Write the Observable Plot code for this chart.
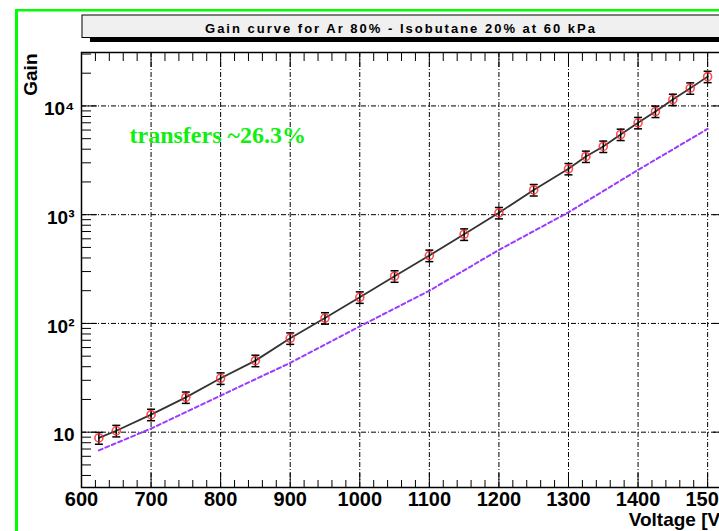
<!DOCTYPE html>
<html>
<head>
<meta charset="utf-8">
<script src="https://cdn.jsdelivr.net/npm/d3@7"></script>
<script src="https://cdn.jsdelivr.net/npm/@observablehq/plot@0.6"></script>
<style>
  html, body { margin: 0; padding: 0; background: #fff; overflow: hidden; }
  #chart svg { display: block; max-width: none !important; }
</style>
</head>
<body>
<div id="chart"></div>
<script>
// Measured gain versus anode voltage (Ar 80% / isobutane 20%, 60 kPa)
const voltage = [625, 650, 700, 750, 800, 850, 900, 950, 1000, 1050, 1100, 1150, 1200,
                 1250, 1300, 1325, 1350, 1375, 1400, 1425, 1450, 1475, 1500];
const gain = [8.85, 10.3, 14.5, 20.9, 31.3, 45.5, 73, 112, 174, 272, 421, 660, 1040,
              1690, 2640, 3430, 4240, 5460, 7000, 8890, 11450, 14550, 18600];
const gainErr = [1.1, 1.25, 1.75, 2.5, 3.8, 5.5, 8.8, 13.5, 21, 33, 51, 80, 125,
                 205, 315, 410, 510, 655, 840, 1070, 1370, 1750, 2230];

// Gain scaled by the transfer fraction
const transferVoltage = [625, 700, 800, 900, 1000, 1100, 1200, 1300, 1400, 1500];
const transferGain = [6.8, 10.8, 21.7, 43.4, 94, 200, 474, 1052, 2580, 6150];

// Axis ticks and labels
const xMajorTicks = [600, 700, 800, 900, 1000, 1100, 1200, 1300, 1400, 1500];
const xMinorTicks = d3.range(620, 1530, 20).filter(v => v % 100 !== 0);
const yMajorTicks = [10, 100, 1000, 10000];
const yTickLabels = ["10", "10\u00B2", "10\u00B3", "10\u2074"];
const yMinorTicks = [4, 5, 6, 7, 8, 9, 20, 30, 40, 50, 60, 70, 80, 90,
                     200, 300, 400, 500, 600, 700, 800, 900,
                     2000, 3000, 4000, 5000, 6000, 7000, 8000, 9000, 20000, 30000];

const titleText = "Gain curve for Ar 80% - Isobutane 20% at 60 kPa";
const annotation = "transfers ~26.3%";
const xTitle = "Voltage [V]";
const yTitle = "Gain";

const points = voltage.map((v, i) => ({v, g: gain[i], lo: gain[i] - gainErr[i], hi: gain[i] + gainErr[i]}));
const transfer = transferVoltage.map((v, i) => ({v, g: transferGain[i]}));

// horizontal bar used as the error-bar cap
const capSymbol = {
  draw(ctx, size) {
    const r = Math.sqrt(size / Math.PI);
    ctx.moveTo(-r, 0);
    ctx.lineTo(r, 0);
  }
};

const gridStyle = {stroke: "#000", strokeOpacity: 1, strokeWidth: 1, strokeDasharray: "5,2,1,2"};
const sans = "'Liberation Sans', Arial, Helvetica, sans-serif";

const chart = Plot.plot({
  width: 740,
  height: 531,
  marginLeft: 81,
  marginRight: 12,
  marginTop: 52,
  marginBottom: 44,
  style: {fontFamily: sans, background: "#fff", maxWidth: "none"},
  x: {type: "linear", domain: [600, 1530]},
  y: {type: "log", domain: [3.1, 31000]},
  marks: [
    Plot.gridX(xMajorTicks, gridStyle),
    Plot.gridY(yMajorTicks, gridStyle),

    // inward tick marks on all four sides
    Plot.axisX(xMajorTicks, {anchor: "bottom", tickSize: -14, fill: "none", stroke: "#000"}),
    Plot.axisX(xMinorTicks, {anchor: "bottom", tickSize: -7, fill: "none", stroke: "#000"}),
    Plot.axisX(xMajorTicks, {anchor: "top", tickSize: -14, fill: "none", stroke: "#000"}),
    Plot.axisX(xMinorTicks, {anchor: "top", tickSize: -8, fill: "none", stroke: "#000"}),
    Plot.axisY(yMajorTicks, {anchor: "left", tickSize: -16, fill: "none", stroke: "#000"}),
    Plot.axisY(yMinorTicks, {anchor: "left", tickSize: -10, fill: "none", stroke: "#000"}),
    Plot.axisY(yMajorTicks, {anchor: "right", tickSize: -16, fill: "none", stroke: "#000"}),
    Plot.axisY(yMinorTicks, {anchor: "right", tickSize: -10, fill: "none", stroke: "#000"}),

    // tick labels
    Plot.axisX(xMajorTicks, {anchor: "bottom", tickSize: 0, tickPadding: 4, label: null,
      tickFormat: d => String(d), fontSize: 20, fontWeight: "bold", fill: "#000"}),
    Plot.axisY(yMajorTicks, {anchor: "left", tickSize: 0, tickPadding: 7, label: null, dy: 3,
      tickFormat: d => yTickLabels[yMajorTicks.indexOf(d)], fontSize: 19, fontWeight: "bold", fill: "#000"}),

    Plot.frame({stroke: "#000", strokeWidth: 1.5}),

    // curves and measurements
    Plot.line(transfer, {x: "v", y: "g", stroke: "#9a3cff", strokeWidth: 2, strokeDasharray: "4,3"}),
    Plot.line(points, {x: "v", y: "g", stroke: "#333", strokeWidth: 1.8}),
    Plot.ruleX(points, {x: "v", y1: "lo", y2: "hi", stroke: "#000", strokeWidth: 1.5}),
    Plot.dot(points, {x: "v", y: "lo", symbol: capSymbol, r: 4, fill: "none", stroke: "#000", strokeWidth: 1.5}),
    Plot.dot(points, {x: "v", y: "hi", symbol: capSymbol, r: 4, fill: "none", stroke: "#000", strokeWidth: 1.5}),
    Plot.dot(points, {x: "v", y: "g", r: 4, fill: "none", stroke: "#ff2020", strokeOpacity: 0.8, strokeWidth: 1.6}),

    // annotation and axis titles
    Plot.text([annotation], {frameAnchor: "top-left", dx: 48, dy: 83, textAnchor: "start", lineAnchor: "middle",
      fontFamily: "'Liberation Serif', 'Times New Roman', serif", fontWeight: "bold", fontSize: 24, fill: "#11ee11"}),
    Plot.text([yTitle], {frameAnchor: "top-left", dx: -51, dy: 1, rotate: -90, textAnchor: "end", lineAnchor: "middle",
      fontSize: 19, fontWeight: "bold", fill: "#000"}),
    Plot.text([xTitle], {frameAnchor: "bottom-right", dx: -2, dy: 32, textAnchor: "end", lineAnchor: "middle",
      fontSize: 19, fontWeight: "bold", fill: "#000"})
  ]
});

document.getElementById("chart").appendChild(chart);

// title box with drop shadow, and the surrounding green border
const svg = d3.select(chart);
svg.append("rect").attr("x", 90).attr("y", 37.5).attr("width", 650).attr("height", 4.5).attr("fill", "#000");
svg.append("rect").attr("x", 82).attr("y", 15).attr("width", 645).attr("height", 22.5)
  .attr("fill", "#f0f0f0").attr("stroke", "#000").attr("stroke-width", 1);
svg.append("text").attr("x", 401).attr("y", 33).attr("text-anchor", "middle")
  .attr("font-family", sans).attr("font-weight", "bold").attr("font-size", 13)
  .attr("letter-spacing", 2).attr("fill", "#000").text(titleText);
svg.append("line").attr("x1", 16.5).attr("x2", 16.5).attr("y1", 9).attr("y2", 531)
  .attr("stroke", "#00ff00").attr("stroke-width", 3);
svg.append("line").attr("x1", 15).attr("x2", 740).attr("y1", 10.3).attr("y2", 10.3)
  .attr("stroke", "#00ff00").attr("stroke-width", 2.6);
</script>
</body>
</html>
